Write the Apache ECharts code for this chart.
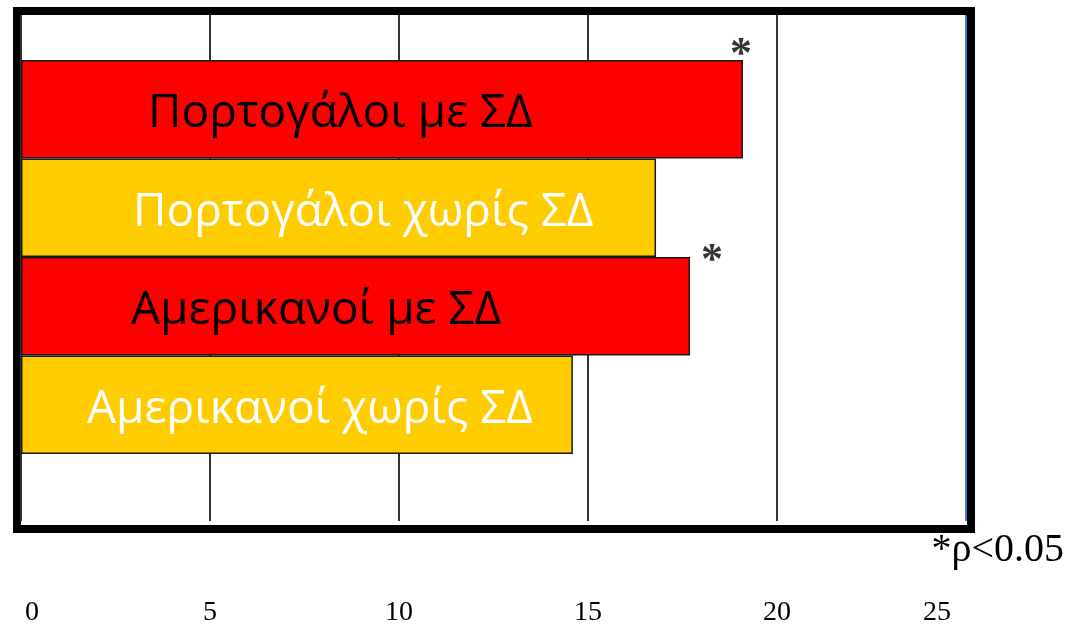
<!DOCTYPE html>
<html>
<head>
<meta charset="utf-8">
<script src="https://cdn.jsdelivr.net/npm/echarts@6/dist/echarts.min.js"></script>
<style>
  html, body { margin: 0; padding: 0; background: #fff; }
  #chart { width: 1068px; height: 627px; }
</style>
</head>
<body>
<div id="chart"></div>
<script>
// data
const categories = ["Πορτογάλοι με ΣΔ", "Πορτογάλοι χωρίς ΣΔ", "Αμερικανοί με ΣΔ", "Αμερικανοί χωρίς ΣΔ"];
const values = [19.1, 16.8, 17.7, 14.6];
const significant = [true, false, true, false];
const xTicks = [0, 5, 10, 15, 20, 25];
const noteText = "*ρ<0.05";

// styles
const barColors = ["#ff0000", "#ffcc00", "#ff0000", "#ffcc00"];
const textColors = ["#000000", "#ffffff", "#000000", "#ffffff"];
const labelInset = [127, 112, 110, 66];
const starShift = [[-2, -54], null, [22, -45], null];

const chartDom = document.getElementById("chart");
const myChart = echarts.init(chartDom);

const tickFont = { fontFamily: "Liberation Serif", fontSize: 28, color: "#000" };

const option = {
    animation: false,
    backgroundColor: "#fff",
    grid: [
        // frame
        { left: 17, right: 97, top: 11, bottom: 98, show: true, borderColor: "#000", borderWidth: 8, backgroundColor: "transparent" },
        // grid lines + tick labels
        { left: 21, right: 102, top: 15, bottom: 105 },
        // bars
        { left: 21, right: 102, top: 60, bottom: 173 },
    ],
    xAxis: [
        { gridIndex: 0, type: "value", show: false, min: 0, max: 1 },
        {
            gridIndex: 1,
            type: "value",
            min: xTicks[0],
            max: xTicks[xTicks.length - 1],
            interval: 5,
            axisLine: { show: false },
            axisTick: { show: false },
            splitLine: {
                show: true,
                lineStyle: { color: ["#333", "#333", "#333", "#333", "#333", "#4a78d0"], width: 2 },
            },
            axisLabel: {
                margin: 78,
                ...tickFont,
                formatter: (v) => {
                    if (v === 0) return "{first|" + v + "}";
                    if (v === 25) return "{last|" + v + "}";
                    return "{mid|" + v + "}";
                },
                rich: {
                    first: { ...tickFont, padding: [0, 0, 0, 22] },
                    mid: { ...tickFont },
                    last: { ...tickFont, padding: [0, 58, 0, 0] },
                },
            },
        },
        { gridIndex: 2, type: "value", show: false, min: 0, max: 25 },
    ],
    yAxis: [
        { gridIndex: 0, type: "value", show: false, min: 0, max: 1 },
        { gridIndex: 1, type: "value", show: false, min: 0, max: 1, splitLine: { show: false } },
        { gridIndex: 2, type: "category", data: categories, inverse: true, show: false },
    ],
    series: [
        {
            type: "bar",
            xAxisIndex: 2,
            yAxisIndex: 2,
            barWidth: "100%",
            barCategoryGap: 0,
            data: values.map((v, i) => ({
                value: v,
                itemStyle: { color: barColors[i], borderColor: "#1a1a1a", borderWidth: 1.5 },
                label: {
                    show: true,
                    position: "insideLeft",
                    distance: labelInset[i],
                    offset: [0, 5],
                    formatter: categories[i],
                    color: textColors[i],
                    fontFamily: "Open Sans",
                    fontSize: 46,
                },
            })),
        },
        {
            type: "scatter",
            xAxisIndex: 2,
            yAxisIndex: 2,
            symbolSize: 0,
            silent: true,
            data: values
                .map((v, i) => (significant[i] ? {
                    value: [v, categories[i]],
                    label: {
                        show: true,
                        position: "inside",
                        offset: starShift[i],
                        formatter: "*",
                        color: "#000",
                        fontFamily: "Liberation Serif",
                        fontWeight: "bold",
                        fontSize: 44,
                    },
                } : null))
                .filter((d) => d),
        },
    ],
    graphic: [
        {
            type: "text",
            right: 4,
            top: 530,
            style: { text: noteText, fontFamily: "Liberation Serif", fontSize: 40, fill: "#000" },
        },
    ],
};

option && myChart.setOption(option);
</script>
</body>
</html>
